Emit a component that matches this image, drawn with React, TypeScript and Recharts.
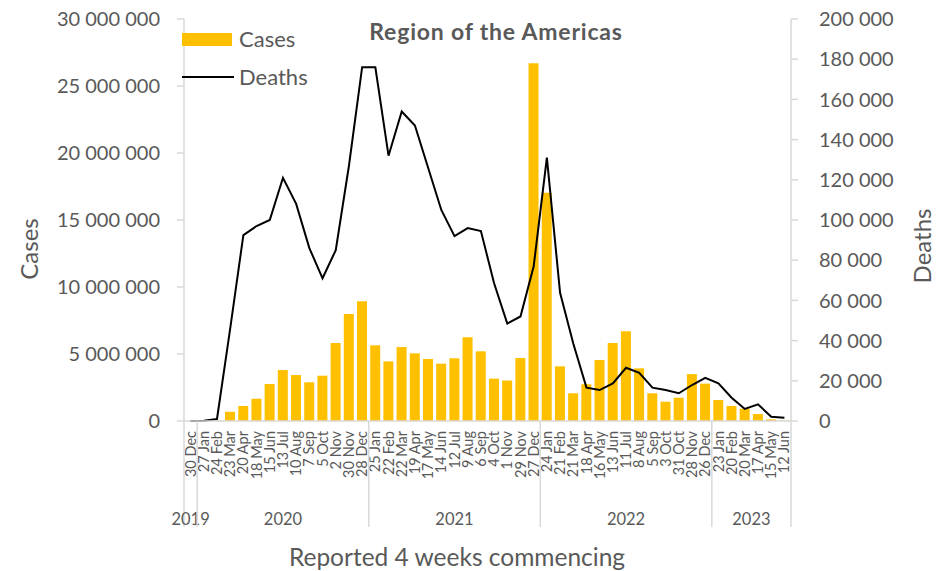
import React from 'react';
import { ComposedChart, Bar, Line, XAxis, YAxis, Legend } from 'recharts';

// 4-week reporting periods, grouped by year
const periods = [
  '30 Dec',
  '27 Jan', '24 Feb', '23 Mar', '20 Apr', '18 May', '15 Jun', '13 Jul', '10 Aug', '7 Sep', '5 Oct', '2 Nov', '30 Nov', '28 Dec',
  '25 Jan', '22 Feb', '22 Mar', '19 Apr', '17 May', '14 Jun', '12 Jul', '9 Aug', '6 Sep', '4 Oct', '1 Nov', '29 Nov', '27 Dec',
  '24 Jan', '21 Feb', '21 Mar', '18 Apr', '16 May', '13 Jun', '11 Jul', '8 Aug', '5 Sep', '3 Oct', '31 Oct', '28 Nov', '26 Dec',
  '23 Jan', '20 Feb', '20 Mar', '17 Apr', '15 May', '12 Jun',
];
const yearNames = ['2019', '2020', '2021', '2022', '2023'];
const yearCounts = [1, 13, 13, 13, 6];

const cases = [
  0,
  10000, 40000, 690000, 1120000, 1660000, 2760000, 3800000, 3430000, 2890000, 3380000, 5820000, 7980000, 8930000,
  5650000, 4450000, 5520000, 5050000, 4630000, 4280000, 4680000, 6250000, 5200000, 3160000, 3030000, 4700000, 26700000,
  17040000, 4080000, 2070000, 2740000, 4550000, 5820000, 6690000, 3930000, 2070000, 1440000, 1740000, 3500000, 2790000,
  1570000, 1120000, 920000, 520000, 120000, 30000,
];
const deaths = [
  0,
  100, 1000, 46000, 92500, 97000, 100000, 121000, 108000, 86000, 71000, 85000, 127000, 176000,
  176000, 132000, 154000, 147000, 126000, 105000, 92000, 96000, 94500, 68500, 48500, 52000, 77000,
  131000, 63800, 38600, 16600, 15400, 18700, 26500, 24000, 16600, 15400, 13800, 17900, 21500,
  18700, 11600, 6000, 8300, 2100, 1600,
];

const casesTicks = [0, 5000000, 10000000, 15000000, 20000000, 25000000, 30000000];
const deathsTicks = [0, 20000, 40000, 60000, 80000, 100000, 120000, 140000, 160000, 180000, 200000];

const years: string[] = [];
yearNames.forEach((y, i) => {
  for (let k = 0; k < yearCounts[i]; k++) years.push(y);
});

const rows = periods.map((p, i) => ({
  key: years[i] + ' ' + p,
  cases: cases[i],
  deaths: deaths[i],
}));

const FONT = 'Lato, "Open Sans", sans-serif';
const GREY = '#595959';
const AXIS = '#d9d9d9';
const PLOT_BOTTOM = 421;
const DIVIDER_BOTTOM = 527;

const fmt = (n: number) => String(n).replace(/\B(?=(\d{3})+(?!\d))/g, ' ');

function DateTick(props: any) {
  const { x, y, index } = props;
  return (
    <text
      transform={`translate(${x},${y + 2}) rotate(-90)`}
      textAnchor="end"
      dy="0.35em"
      fontSize={14.5}
      fontFamily={FONT}
      fill={GREY}
    >
      {periods[index]}
    </text>
  );
}

function YearTick(props: any) {
  const { x, index, payload } = props;
  const half = payload && payload.offset ? payload.offset : 6.6;
  let start = 0;
  for (let g = 0; g < yearCounts.length; g++) {
    const count = yearCounts[g];
    if (index === start) {
      const left = x - half;
      const center = left + count * half;
      const isLast = g === yearCounts.length - 1;
      return (
        <g>
          <line x1={left} x2={left} y1={PLOT_BOTTOM} y2={DIVIDER_BOTTOM} stroke={AXIS} strokeWidth={1.5} />
          {isLast && (
            <line
              x1={left + count * 2 * half}
              x2={left + count * 2 * half}
              y1={PLOT_BOTTOM}
              y2={DIVIDER_BOTTOM}
              stroke={AXIS}
              strokeWidth={1.5}
            />
          )}
          <text x={center} y={519} dy="0.35em" textAnchor="middle" fontSize={16.5} fontFamily={FONT} fill={GREY}>
            {yearNames[g]}
          </text>
        </g>
      );
    }
    start += count;
  }
  return <g />;
}

function LegendBox() {
  return (
    <div style={{ fontFamily: FONT, fontSize: 22, color: GREY, lineHeight: '38px' }}>
      <div style={{ display: 'flex', alignItems: 'center' }}>
        <span style={{ display: 'inline-block', width: 50, height: 13, background: '#FFC000', marginRight: 7 }} />
        Cases
      </div>
      <div style={{ display: 'flex', alignItems: 'center' }}>
        <span style={{ display: 'inline-block', width: 52, height: 2, background: '#000', marginRight: 5 }} />
        Deaths
      </div>
    </div>
  );
}

export default function App() {
  return (
    <div style={{ width: 948, height: 571, position: 'relative' }}>
      <style>{'body { margin: 0; }'}</style>
      <ComposedChart
        width={948}
        height={571}
        data={rows}
        margin={{ top: 19, right: 0, bottom: 0, left: 0 }}
        barCategoryGap="11%"
      >
        <XAxis
          xAxisId="date"
          dataKey="key"
          interval={0}
          height={85}
          tickLine={false}
          axisLine={{ stroke: AXIS, strokeWidth: 1.5 }}
          tick={<DateTick />}
        />
        <XAxis
          xAxisId="year"
          dataKey="key"
          interval={0}
          height={65}
          tickLine={false}
          axisLine={false}
          tick={<YearTick />}
        />
        <YAxis
          yAxisId="cases"
          orientation="left"
          width={184}
          domain={[0, 30000000]}
          ticks={casesTicks}
          interval={0}
          tickFormatter={fmt}
          tickSize={7}
          tickMargin={17}
          axisLine={{ stroke: AXIS, strokeWidth: 1.5 }}
          tickLine={{ stroke: AXIS, strokeWidth: 1.5 }}
          tick={{ fill: GREY, fontSize: 20, fontFamily: FONT }}
        />
        <YAxis
          yAxisId="deaths"
          orientation="right"
          width={157}
          domain={[0, 200000]}
          ticks={deathsTicks}
          interval={0}
          tickFormatter={fmt}
          tickSize={7}
          tickMargin={21}
          axisLine={{ stroke: AXIS, strokeWidth: 1.5 }}
          tickLine={{ stroke: AXIS, strokeWidth: 1.5 }}
          tick={{ fill: GREY, fontSize: 20, fontFamily: FONT, textAnchor: 'start' }}
        />
        <Legend
          layout="horizontal"
          verticalAlign="middle"
          align="center"
          content={<LegendBox />}
          wrapperStyle={{ top: 20, left: 182, width: 160, height: 80 }}
        />
        <Bar
          xAxisId="date"
          yAxisId="cases"
          dataKey="cases"
          name="Cases"
          fill="#FFC000"
          isAnimationActive={false}
        />
        <Line
          xAxisId="date"
          yAxisId="deaths"
          dataKey="deaths"
          name="Deaths"
          type="linear"
          stroke="#000000"
          strokeWidth={2}
          dot={false}
          activeDot={false}
          isAnimationActive={false}
        />
        <text
          x={496}
          y={32}
          dy="0.35em"
          textAnchor="middle"
          fontSize={23}
          letterSpacing={0.8}
          fontWeight="bold"
          fontFamily={FONT}
          fill={GREY}
        >
          Region of the Americas
        </text>
        <text
          transform="translate(30,249) rotate(-90)"
          textAnchor="middle"
          dy="0.35em"
          fontSize={24}
          fontFamily={FONT}
          fill={GREY}
        >
          Cases
        </text>
        <text
          transform="translate(923,246) rotate(-90)"
          textAnchor="middle"
          dy="0.35em"
          fontSize={24}
          fontFamily={FONT}
          fill={GREY}
        >
          Deaths
        </text>
        <text x={457} y={557} dy="0.35em" textAnchor="middle" fontSize={24.5} fontFamily={FONT} fill={GREY}>
          Reported 4 weeks commencing
        </text>
      </ComposedChart>
    </div>
  );
}
